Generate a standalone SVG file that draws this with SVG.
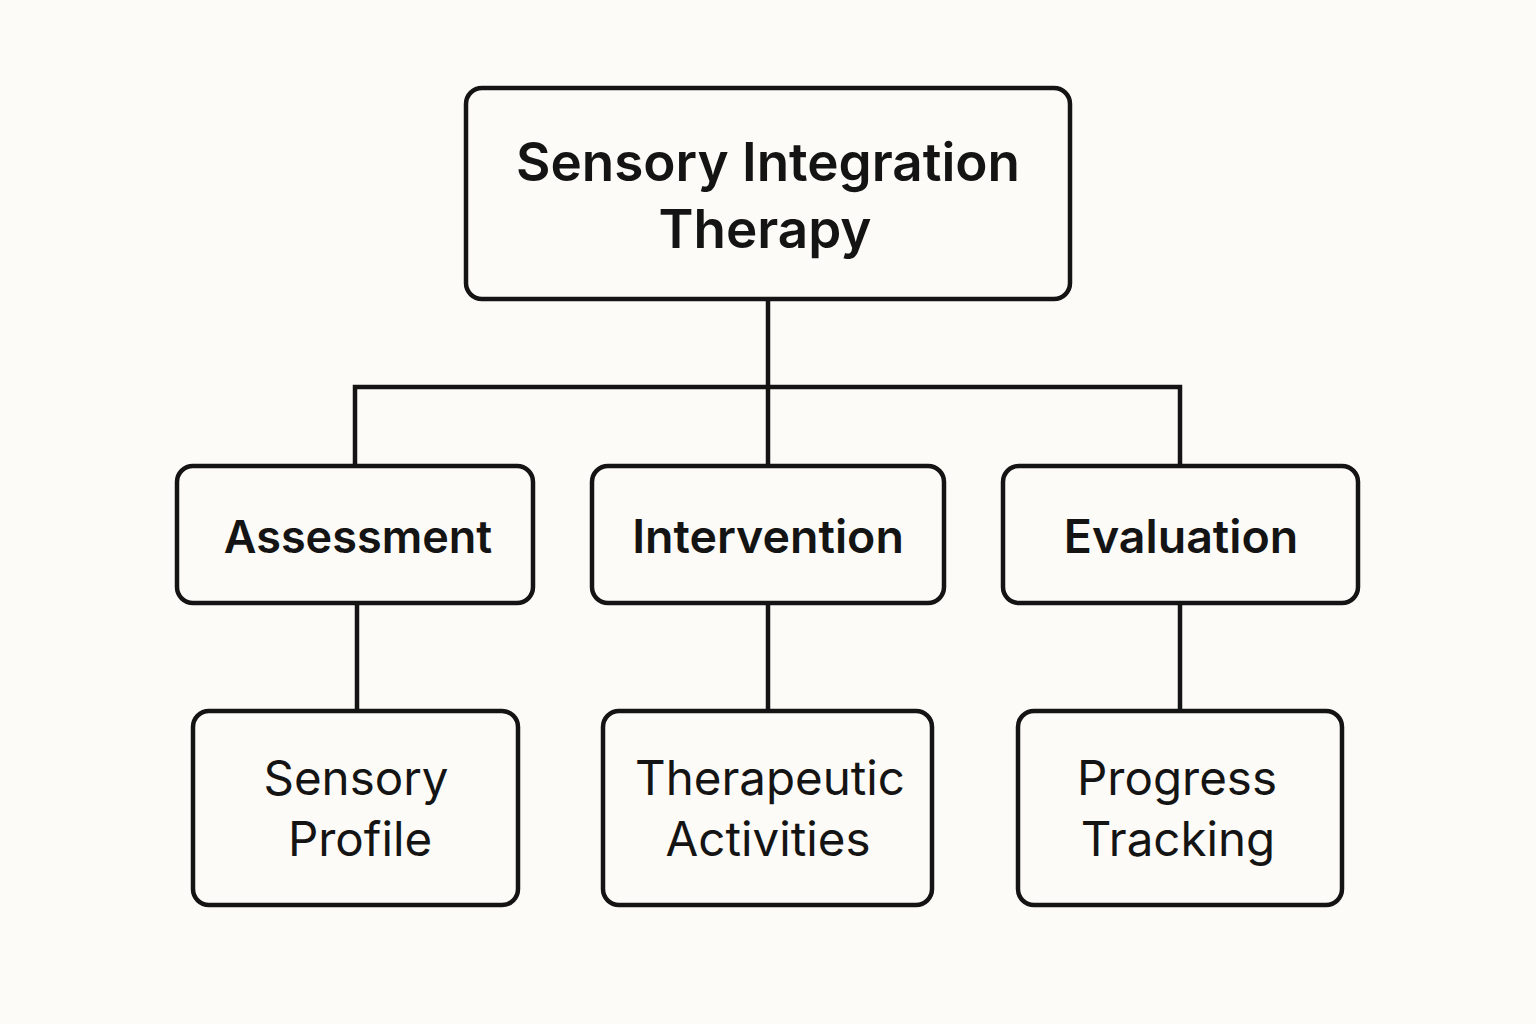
<svg xmlns="http://www.w3.org/2000/svg" width="1536" height="1024" viewBox="0 0 1536 1024">
<style>
.box{fill:#fdfbf7;stroke:#141414;stroke-width:4.5}
.conn{fill:none;stroke:#141414;stroke-width:4.5}
.t{font-family:Inter,"Liberation Sans",sans-serif;fill:#141414;text-anchor:middle}
.b{font-weight:600}
.top{font-size:53px}
.mid{font-size:46.5px}
.low{font-size:47.5px;font-weight:400}
</style>
<rect width="1536" height="1024" fill="#fdfbf7"/>
<g id="connectors">
<path class="conn" d="M768 299V387M355 466V387H1180V466M768 387V466"/>
<path class="conn" d="M357 603V711M768 603V711M1180 603V711"/>
</g>
<g id="root">
<rect class="box" x="466" y="88" width="604" height="211" rx="16"/>
<text class="t b top" x="768" y="181">Sensory Integration</text>
<text class="t b top" x="765" y="248">Therapy</text>
</g>
<g id="assessment">
<rect class="box" x="177" y="466" width="356" height="137" rx="16"/>
<text class="t b mid" x="358" y="553" style="font-size:45px">Assessment</text>
</g>
<g id="intervention">
<rect class="box" x="592" y="466" width="352" height="137" rx="16"/>
<text class="t b mid" x="768" y="553">Intervention</text>
</g>
<g id="evaluation">
<rect class="box" x="1003" y="466" width="355" height="137" rx="16"/>
<text class="t b mid" x="1181" y="553">Evaluation</text>
</g>
<g id="sensory-profile">
<rect class="box" x="193" y="711" width="325" height="194" rx="16"/>
<text class="t low" x="356" y="795">Sensory</text>
<text class="t low" x="360" y="856">Profile</text>
</g>
<g id="therapeutic-activities">
<rect class="box" x="603" y="711" width="329" height="194" rx="16"/>
<text class="t low" x="770" y="795">Therapeutic</text>
<text class="t low" x="768" y="856">Activities</text>
</g>
<g id="progress-tracking">
<rect class="box" x="1018" y="711" width="324" height="194" rx="16"/>
<text class="t low" x="1177" y="795">Progress</text>
<text class="t low" x="1178" y="856">Tracking</text>
</g>
</svg>
